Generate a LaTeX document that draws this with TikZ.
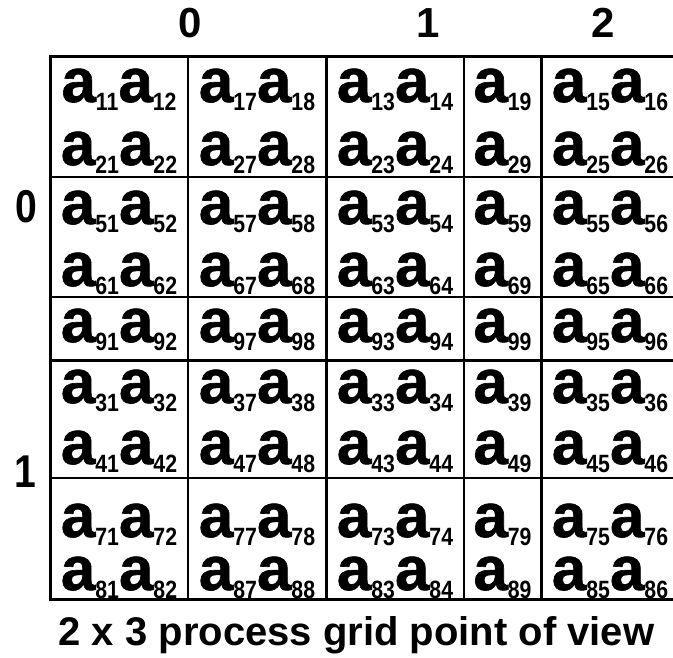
\documentclass[tikz,border=0pt]{standalone}
\usepackage{fontspec}
\setmainfont{Liberation Sans}
\newfontfamily\afont{Liberation Sans Bold}[FakeBold=1]
\newcommand\ent[1]{{\afont\fontsize{62}{62}\selectfont a}\raisebox{-8pt}{\fontsize{25}{25}\selectfont\scalebox{0.85}[1]{#1}}}
\begin{document}
\begin{tikzpicture}[x=1pt,y=-1pt,
  cellt/.style={anchor=base,inner sep=0pt,font=\bfseries},
  hdr/.style={anchor=base,inner sep=0pt,font=\bfseries\fontsize{42}{42}\selectfont},
  rowhdr/.style={anchor=base,inner sep=0pt,font=\bfseries\fontsize{46}{46}\selectfont},
  thickl/.style={line width=3pt},
  thinl/.style={line width=1.3pt}]
\useasboundingbox (0,0) rectangle (673,657);
\clip (0,0) rectangle (673,657);
% grid lines
\draw[thinl] (50,177) -- (690,177);
\draw[thinl] (50,297) -- (690,297);
\draw[thinl] (50,478) -- (690,478);
\draw[thinl] (188,56) -- (188,599);
\draw[thinl] (464,56) -- (464,599);
\draw[thickl] (50,360) -- (690,360);
\draw[thickl] (326,56) -- (326,599);
\draw[thickl] (541,56) -- (541,599);
\draw[thickl] (690,56) -- (50,56) -- (50,599) -- (690,599);
% entries
\foreach \r/\y in {1/102,2/165,5/224,6/286,9/342,3/403,4/464,7/537,8/590}{
  \foreach \a/\b/\x in {1/2/119,7/8/257,3/4/395,5/6/610}{
    \node[cellt] (e\r\a\b) at (\x,\y) {\ent{\r\a}\ent{\r\b}};
  }
  \node[cellt] (e\r9) at (502.5,\y) {\ent{\r9}};
}
% headers
\node[hdr] (h0) at (190,37) {0};
\node[hdr] (h1) at (428.5,37) {1};
\node[hdr] (h2) at (603.5,37) {2};
\node[rowhdr] (v0) at (26.5,222) {\scalebox{0.85}[1]{0}};
\node[rowhdr] (v1) at (25,487) {\scalebox{0.85}[1]{1}};
\node[anchor=base,inner sep=0pt,font=\bfseries\fontsize{40}{40}\selectfont] (title) at (356.5,645) {2 x 3 process grid point of view};
\end{tikzpicture}
\end{document}
